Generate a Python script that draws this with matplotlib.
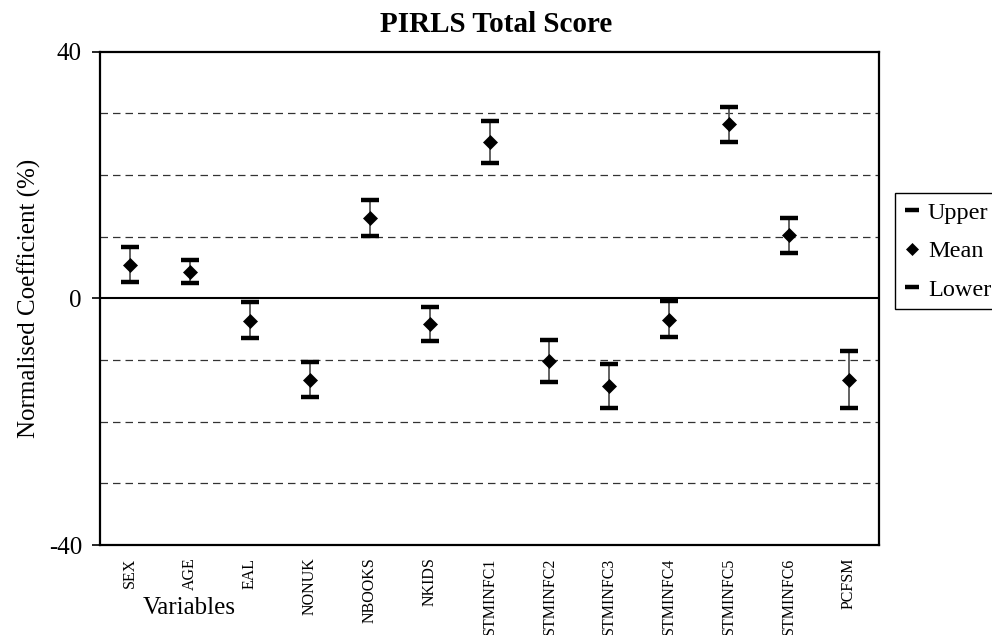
import matplotlib
matplotlib.use('Agg')
import matplotlib.pyplot as plt
import numpy as np

plt.rcParams['font.family'] = ['Liberation Serif', 'DejaVu Serif']

# Daten
variables = ['SEX', 'AGE', 'EAL', 'NONUK', 'NBOOKS', 'NKIDS', 'STMINFC1',
             'STMINFC2', 'STMINFC3', 'STMINFC4', 'STMINFC5', 'STMINFC6', 'PCFSM']
mean = [5.35, 4.3, -3.6, -13.2, 13.0, -4.15, 25.3, -10.1, -14.2, -3.45, 28.3, 10.2, -13.2]
upper = [8.25, 6.15, -0.65, -10.3, 15.9, -1.4, 28.7, -6.7, -10.7, -0.5, 31.1, 13.0, -8.5]
lower = [2.6, 2.5, -6.4, -16.0, 10.05, -6.9, 21.9, -13.5, -17.8, -6.3, 25.3, 7.4, -17.8]
y_ticks = [-40, 0, 40]
grid_levels = [-30, -20, -10, 10, 20, 30]

fig = plt.figure(figsize=(9.92, 6.35), dpi=100)
ax = fig.add_axes([0.1008, 0.1417, 0.7853, 0.7769])

x = np.arange(len(variables)) + 0.5

for g in grid_levels:
    ax.axhline(g, color='#333333', lw=0.9, linestyle=(0, (6, 4)), zorder=1)
ax.axhline(0, color='black', lw=1.5, zorder=2)

ax.vlines(x, lower, upper, color='#555555', lw=1.3, zorder=3)
h_up, = ax.plot(x, upper, linestyle='none', marker='_', markersize=13,
                mew=3.2, color='black', zorder=4, label='Upper')
h_mean, = ax.plot(x, mean, linestyle='none', marker='D', markersize=7.5,
                  mew=0.5, color='black', zorder=5, label='Mean')
h_low, = ax.plot(x, lower, linestyle='none', marker='_', markersize=13,
                 mew=3.2, color='black', zorder=4, label='Lower')

ax.set_xlim(0, len(variables))
ax.set_ylim(-40, 40)
ax.set_yticks(y_ticks)
ax.set_yticklabels([str(t) for t in y_ticks], fontsize=18)
ax.set_xticks(x)
ax.set_xticklabels(variables, rotation=90, fontsize=11.5, va='top')
ax.tick_params(axis='x', length=0, pad=9)
ax.tick_params(axis='y', length=6, width=1.2, pad=7, direction='out')
for s in ax.spines.values():
    s.set_linewidth(1.6)

ax.set_ylabel('Normalised Coefficient (%)', fontsize=18)
ax.yaxis.set_label_coords(-0.076, 0.5)
fig.text(496 / 992, 1 - 24 / 635, 'PIRLS Total Score', fontsize=21,
         fontweight='bold', ha='center', va='center')
fig.text(189 / 992, 1 - 608 / 635, 'Variables', fontsize=18,
         ha='center', va='center')

leg = fig.legend(handles=[h_up, h_mean, h_low], loc='upper left',
                 bbox_to_anchor=(895 / 992, 1 - 193 / 635), fontsize=17.5,
                 frameon=True, fancybox=False, framealpha=1, edgecolor='black',
                 handlelength=0.7, handletextpad=0.3, borderpad=0.35,
                 labelspacing=0.68, borderaxespad=0, markerscale=0.75)
leg.get_frame().set_linewidth(1.0)

fig.savefig('out.png', dpi=100)
